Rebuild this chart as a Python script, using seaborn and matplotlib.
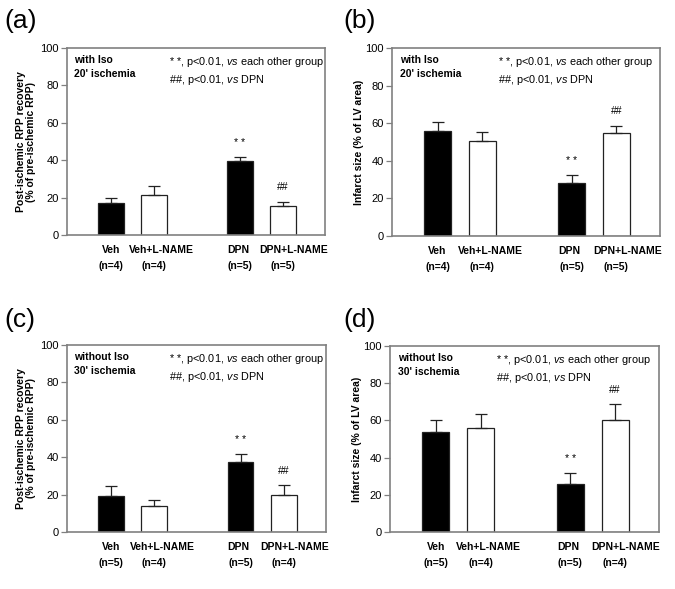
import matplotlib
matplotlib.use("Agg")
import matplotlib.pyplot as plt
import seaborn as sns
import pandas as pd
import numpy as np

sns.set_theme(style="white")
plt.rcParams['font.family'] = ['Liberation Sans', 'DejaVu Sans']
plt.rcParams['mathtext.fontset'] = 'custom'
plt.rcParams['mathtext.rm'] = 'Liberation Sans'
plt.rcParams['mathtext.it'] = 'Liberation Sans:italic'
plt.rcParams['text.color'] = 'black'

# ---- data ----
groups = ["Veh", "Veh+L-NAME", "DPN", "DPN+L-NAME"]
positions = [0, 1, 3, 4]
treatment = ["none", "L-NAME", "none", "L-NAME"]

a_mean = [17.3, 21.4, 39.5, 15.5]
a_err = [2.3, 4.9, 2.0, 2.3]
a_n = ["(n=4)", "(n=4)", "(n=5)", "(n=5)"]

b_mean = [55.6, 50.6, 28.4, 54.7]
b_err = [5.0, 4.6, 4.1, 3.9]
b_n = ["(n=4)", "(n=4)", "(n=5)", "(n=5)"]

c_mean = [19.2, 14.0, 37.7, 19.7]
c_err = [5.4, 3.0, 4.0, 5.4]
c_n = ["(n=5)", "(n=4)", "(n=5)", "(n=4)"]

d_mean = [53.7, 55.7, 26.0, 60.1]
d_err = [6.4, 7.5, 5.6, 8.8]
d_n = ["(n=5)", "(n=4)", "(n=5)", "(n=4)"]

sig_marks = ["", "", "* *", "##"]

panels = [
    ("(a)", a_mean, a_err, a_n, "Post-ischemic RPP recovery\n(% of pre-ischemic RPP)", "with Iso\n20' ischemia"),
    ("(b)", b_mean, b_err, b_n, "Infarct size (% of LV area)", "with Iso\n20' ischemia"),
    ("(c)", c_mean, c_err, c_n, "Post-ischemic RPP recovery\n(% of pre-ischemic RPP)", "without Iso\n30' ischemia"),
    ("(d)", d_mean, d_err, d_n, "Infarct size (% of LV area)", "without Iso\n30' ischemia"),
]

W, H = 675, 589
fig = plt.figure(figsize=(W / 100, H / 100), dpi=100)

# axes boxes in pixels: left, right, top, bottom
boxes = [(67, 325, 48, 235), (392, 660, 48, 236), (67, 326, 345, 532), (390, 659, 346, 532)]
letter_pos = [(4, 21), (343, 21), (4, 320), (343, 320)]
label_pads = [3, 1, 3, 1]
name_offsets = [0, 8, -2, 11]   # pixel shift of the group names

spine_col = "#808080"

for (letter, mean, err, nlab, ylab, cond), (l, r, t, b), (lx, ly), lp in zip(panels, boxes, letter_pos, label_pads):
    ax = fig.add_axes([l / W, 1 - b / H, (r - l) / W, (b - t) / H])
    df = pd.DataFrame({"pos": positions, "value": mean, "treat": treatment})
    sns.barplot(data=df, x="pos", y="value", hue="treat", native_scale=True, dodge=False,
                palette={"none": "black", "L-NAME": "white"}, edgecolor="#222222",
                linewidth=0.9, width=0.6, ax=ax, legend=False, errorbar=None)
    ax.errorbar(positions, mean, yerr=[np.zeros(len(err)), err], fmt="none",
                ecolor="#222222", elinewidth=0.9, capsize=4, capthick=0.9)
    for p, m, e, s in zip(positions, mean, err, sig_marks):
        if s:
            ax.text(p, m + e + 5, s, ha="center", va="bottom", fontsize=7.5, color="black")
    ax.set_xlim(-1.02, 4.98)
    ax.set_ylim(0, 100)
    ax.set_yticks([0, 20, 40, 60, 80, 100])
    ax.set_xticks(positions)
    ax.set_xticklabels(nlab, fontsize=7.5, fontweight="bold", color="black")
    ax.tick_params(axis="x", length=0, pad=19)
    ax.tick_params(axis="y", length=4, width=0.9, color=spine_col, labelsize=8, pad=2,
                   direction="out", left=True, labelcolor="black")
    for p, g, off in zip(positions, groups, name_offsets):
        ax.annotate(g, xy=(p, 0), xycoords=("data", "axes fraction"), xytext=(off, -15),
                    textcoords="offset pixels", ha="center", va="center", fontsize=7.5,
                    fontweight="bold", color="black")
    for sp in ax.spines.values():
        sp.set_color(spine_col)
        sp.set_linewidth(1.2)
    ax.set_xlabel("")
    ax.set_ylabel(ylab, fontsize=7.5, fontweight="bold", labelpad=lp, linespacing=1.0, color="black")
    ax.text(-0.85, 96.5, cond, ha="left", va="top", fontsize=7.5, fontweight="bold", linespacing=1.5)
    ax.text(1.35, 96.5, "* *, p<0.01, $\\it{vs}$ each other group\n##, p<0.01, $\\it{vs}$ DPN",
            ha="left", va="top", fontsize=7.8, linespacing=1.45)
    fig.text(lx / W, 1 - ly / H, letter, fontsize=19, ha="left", va="center")

fig.savefig("out.png", dpi=100)
